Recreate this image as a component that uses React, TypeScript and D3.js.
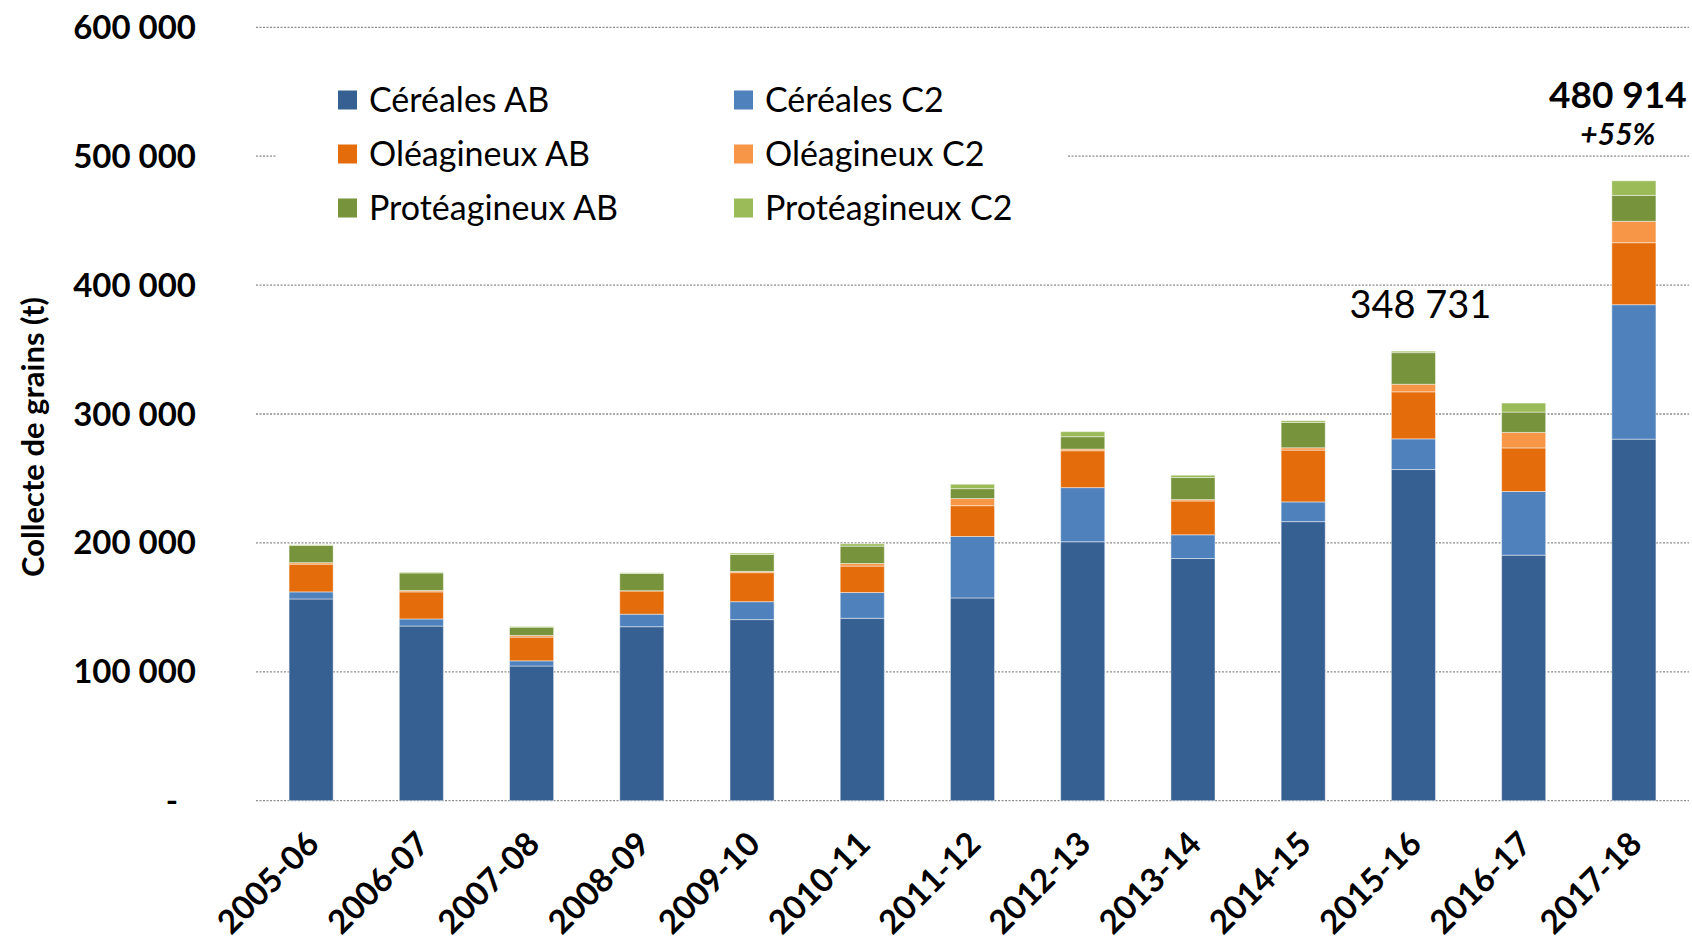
import * as d3 from "d3";
import React from "react";

const years = [
  "2005-06", "2006-07", "2007-08", "2008-09", "2009-10", "2010-11", "2011-12",
  "2012-13", "2013-14", "2014-15", "2015-16", "2016-17", "2017-18",
];

// tonnes
const cerealesAB = [156500, 135500, 104500, 135000, 140500, 141500, 157300, 200900, 187900, 216500, 256900, 190500, 280500];
const cerealesC2 = [5500, 5500, 4000, 9700, 13900, 20000, 47700, 42000, 18400, 15300, 23800, 49400, 104300];
const oleagineuxAB = [21500, 21000, 18400, 18000, 22500, 20500, 23900, 28600, 26200, 40200, 36500, 33800, 48100];
const oleagineuxC2 = [1200, 1100, 1300, 200, 1000, 2000, 5500, 1300, 1100, 1800, 5900, 12000, 16600];
const proteagineuxAB = [13300, 13600, 6400, 13400, 13100, 13500, 7700, 9600, 17100, 19700, 24500, 15800, 20100];
const proteagineuxC2 = [500, 500, 500, 500, 1100, 1800, 3400, 3900, 1800, 1300, 1131, 7000, 11314];

const seriesNames = [
  "Céréales AB", "Céréales C2", "Oléagineux AB",
  "Oléagineux C2", "Protéagineux AB", "Protéagineux C2",
];
const seriesValues = [cerealesAB, cerealesC2, oleagineuxAB, oleagineuxC2, proteagineuxAB, proteagineuxC2];
const colors = ["#376092", "#4f81bd", "#e46c0a", "#f79646", "#77933c", "#9bbb59"];

const yTicks = [0, 100000, 200000, 300000, 400000, 500000, 600000];
const yTickLabels = ["-", "100 000", "200 000", "300 000", "400 000", "500 000", "600 000"];

const width = 1692;
const height = 941;
const font = "Lato, 'Liberation Sans', sans-serif";

function App() {
  const x = d3.scaleBand<string>().domain(years).range([256, 1689]).paddingInner(0.6).paddingOuter(0.3);
  const y = d3.scaleLinear().domain([0, 600000]).range([800.7, 27.3]);

  const table = years.map((yr, i) => {
    const row: any = { year: yr };
    seriesNames.forEach((s, k) => (row[s] = seriesValues[k][i]));
    return row;
  });
  const stacked = d3.stack<any>().keys(seriesNames)(table);

  const legendRows = [0, 1, 2];

  return (
    <svg width={width} height={height} style={{ position: "absolute", left: 0, top: 0, background: "#fff" }} fontFamily={font}>
      {yTicks.map((t, i) => (
        <g key={t}>
          <line x1={256} x2={1689} y1={y(t)} y2={y(t)} stroke="#8c8c8c" strokeWidth={1.3} strokeDasharray="2 1.5" />
          <text x={i === 0 ? 178 : 196} y={y(t)} dy="0.35em" textAnchor="end" fontSize={33} fontWeight="bold" fill="#000">
            {yTickLabels[i]}
          </text>
        </g>
      ))}

      <text transform={`translate(44, 437) rotate(-90)`} textAnchor="middle" fontSize={31} fontWeight="bold">
        Collecte de grains (t)
      </text>

      {/* legend */}
      <rect x={276} y={55} width={792} height={190} fill="#fff" />
      {legendRows.map((r) =>
        [0, 1].map((c) => {
          const k = r * 2 + c;
          const sx = c === 0 ? 338 : 734;
          const cy = [100, 154, 208][r];
          return (
            <g key={k}>
              <rect x={sx} y={cy - 9.5} width={19} height={19} fill={colors[k]} />
              <text x={sx + 31} y={cy} dy="0.35em" fontSize={34} fill="#000">
                {seriesNames[k]}
              </text>
            </g>
          );
        })
      )}

      {stacked.map((layer, k) => (
        <g key={layer.key} fill={colors[k]}>
          {layer.map((d, i) => (
            <rect
              key={years[i]}
              x={x(years[i])}
              width={x.bandwidth()}
              y={y(d[1])}
              height={y(d[0]) - y(d[1])}
              stroke="#ffffff"
              strokeOpacity={0.45}
              strokeWidth={1}
            />
          ))}
        </g>
      ))}

      {years.map((yr) => (
        <text
          key={yr}
          transform={`translate(${(x(yr) as number) + x.bandwidth() / 2 + 10}, 846) rotate(-45)`}
          textAnchor="end"
          fontSize={33}
          fontWeight="bold"
        >
          {yr}
        </text>
      ))}

      <text x={(x("2015-16") as number) + x.bandwidth() / 2 + 7} y={318} textAnchor="middle" fontSize={38}>
        348 731
      </text>
      <text x={(x("2017-18") as number) + x.bandwidth() / 2 - 16} y={108} textAnchor="middle" fontSize={37} fontWeight="bold">
        480 914
      </text>
      <text x={(x("2017-18") as number) + x.bandwidth() / 2 - 16} y={145} textAnchor="middle" fontSize={30} fontWeight="bold" fontStyle="italic">
        +55%
      </text>
    </svg>
  );
}

export default App;
